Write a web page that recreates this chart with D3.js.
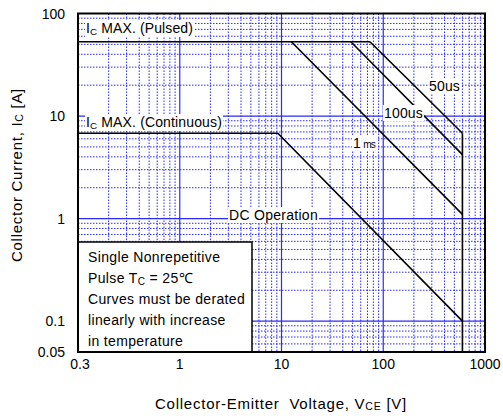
<!DOCTYPE html>
<html><head><meta charset="utf-8">
<script src="https://cdn.jsdelivr.net/npm/d3@7"></script>
<style>body{margin:0;background:#fff;} text{font-family:"Liberation Sans",Arial,sans-serif;}</style>
</head><body>
<svg id="c" width="503" height="420"></svg>
<script>
// ---- data ----
const xTickValues = [0.1, 1, 10, 100, 1000];
const xTickLabels = ["0.3", "1", "10", "100", "1000"];
const yTickValues = [0.05, 0.1, 1, 10, 100];
const yTickLabels = ["0.05", "0.1", "1", "10", "100"];
const pulsedLimit = [[0.1, 53], [74, 53]];
const curve1ms = [[12.5, 53], [600, 1.1]];
const curve100us = [[48, 53], [600, 4.2]];
const curve50us = [[74, 53], [600, 6.8]];
const curveDC = [[0.1, 6.8], [9.2, 6.8], [600, 0.1]];
const voltageLimit = [[600, 6.8], [600, 0.05]];
const noteLines = ["Single Nonrepetitive", "Pulse T_C = 25℃", "Curves must be derated", "linearly with increase", "in temperature"];

const svg = d3.select("#c");
const L = 78, R = 485, T = 13.5, B = 352;
const x = d3.scaleLog().domain([0.1, 1000]).range([L, R]);
const y = d3.scaleLog().domain([0.05, 100]).range([B, T]);

function fit(t, w) {
  const n = t.text().length;
  const cur = t.node().getComputedTextLength();
  t.attr("letter-spacing", ((w - cur) / n).toFixed(3));
  return t;
}

// grid
const g = svg.append("g");
const xMinor = [], yMinor = [];
[0.1, 1, 10, 100].forEach(d => { for (let k = 2; k <= 9; k++) xMinor.push(d * k); });
[0.01, 0.1, 1, 10].forEach(d => { for (let k = 2; k <= 9; k++) { const v = d * k; if (v > 0.05 && v < 100) yMinor.push(v); } });
g.selectAll(".xm").data(xMinor).join("line")
  .attr("x1", d => x(d)).attr("x2", d => x(d)).attr("y1", T).attr("y2", B)
  .attr("stroke", "#2a2aff").attr("stroke-width", 1).attr("stroke-dasharray", "1.5,1.5");
g.selectAll(".ym").data(yMinor).join("line")
  .attr("y1", d => y(d)).attr("y2", d => y(d)).attr("x1", L).attr("x2", R)
  .attr("stroke", "#2a2aff").attr("stroke-width", 1).attr("stroke-dasharray", "1.5,1.5");
g.selectAll(".xM").data([1, 10, 100]).join("line")
  .attr("x1", d => x(d)).attr("x2", d => x(d)).attr("y1", T).attr("y2", B)
  .attr("stroke", "#2a2aff").attr("stroke-width", 1.2);
g.selectAll(".yM").data([0.1, 1, 10]).join("line")
  .attr("y1", d => y(d)).attr("y2", d => y(d)).attr("x1", L).attr("x2", R)
  .attr("stroke", "#2a2aff").attr("stroke-width", 1.2);

// curves
const line = d3.line().x(d => x(d[0])).y(d => y(d[1]));
[pulsedLimit, curve1ms, curve100us, curve50us, curveDC, voltageLimit].forEach(c => {
  svg.append("path").attr("d", line(c)).attr("fill", "none").attr("stroke", "#000").attr("stroke-width", 1.6);
});

// labels with white background
function label(xp, yp, parts, size, w) {
  const t = svg.append("text").attr("x", xp).attr("y", yp).attr("font-size", size);
  parts.forEach(p => {
    const s = t.append("tspan").text(p.t);
    if (p.sub) s.attr("font-size", size * 0.7).attr("dy", 2);
    else if (p.after) s.attr("dy", -2);
    if (p.small) s.attr("font-size", size * 0.72);
  });
  if (w) fit(t, w);
  const bb = t.node().getBBox();
  svg.insert("rect", () => t.node()).attr("x", bb.x - 1).attr("y", bb.y).attr("width", bb.width + 2).attr("height", bb.height).attr("fill", "#fff");
  return t;
}
label(86, 33, [{t: "I"}, {t: "C", sub: true}, {t: " MAX. (Pulsed)", after: true}], 14, 107);
label(86, 127, [{t: "I"}, {t: "C", sub: true}, {t: " MAX. (Continuous)", after: true}], 14, 136);
label(429, 91, [{t: "50us"}], 14, 31);
label(384, 118, [{t: "100us"}], 14, 39);
label(353, 148, [{t: "1 "}, {t: "ms", small: true}], 14, 22);
label(229, 220, [{t: "DC Operation"}], 14, 89);

// note box
const nb = svg.append("g");
nb.append("rect").attr("x", 78).attr("y", 242).attr("width", 174).attr("height", 110).attr("fill", "#fff").attr("stroke", "#000").attr("stroke-width", 1.5);
noteLines.forEach((s, i) => {
  const t = nb.append("text").attr("x", 88).attr("y", 262 + i * 21).attr("font-size", 14).attr("letter-spacing", 0.35);
  if (s.includes("T_C")) {
    t.append("tspan").text("Pulse T");
    t.append("tspan").text("C").attr("font-size", 10).attr("dy", 2);
    t.append("tspan").text(" = 25℃").attr("dy", -2);
  } else t.text(s);
});

// frame
svg.append("rect").attr("x", L).attr("y", T).attr("width", R - L).attr("height", B - T).attr("fill", "none").attr("stroke", "#000").attr("stroke-width", 2);

// ticks labels
svg.selectAll(".xt").data(xTickValues).join("text")
  .attr("x", d => x(d)).attr("y", 369).attr("text-anchor", "middle")
  .attr("dx", (d, i) => i === 0 ? 2 : 0).attr("font-size", 14).text((d, i) => xTickLabels[i]);
svg.selectAll(".yt").data(yTickValues).join("text")
  .attr("x", 65).attr("y", d => y(d) + 5).attr("text-anchor", "end").attr("font-size", 14)
  .text((d, i) => yTickLabels[i]);

// axis titles
const xt = svg.append("text").attr("x", 155).attr("y", 409).attr("font-size", 15);
xt.append("tspan").text("Collector-Emitter\u00a0\u00a0Voltage, V");
xt.append("tspan").text("CE").attr("font-size", 10.5).attr("dy", 1);
xt.append("tspan").text(" [V]").attr("dy", -1);
fit(xt, 252);
const yt = svg.append("text").attr("transform", "translate(22,262) rotate(-90)").attr("font-size", 15);
yt.append("tspan").text("Collector Current, I");
yt.append("tspan").text("C").attr("font-size", 10.5).attr("dy", 1);
yt.append("tspan").text(" [A]").attr("dy", -1);
fit(yt, 174);
</script>
</body></html>
